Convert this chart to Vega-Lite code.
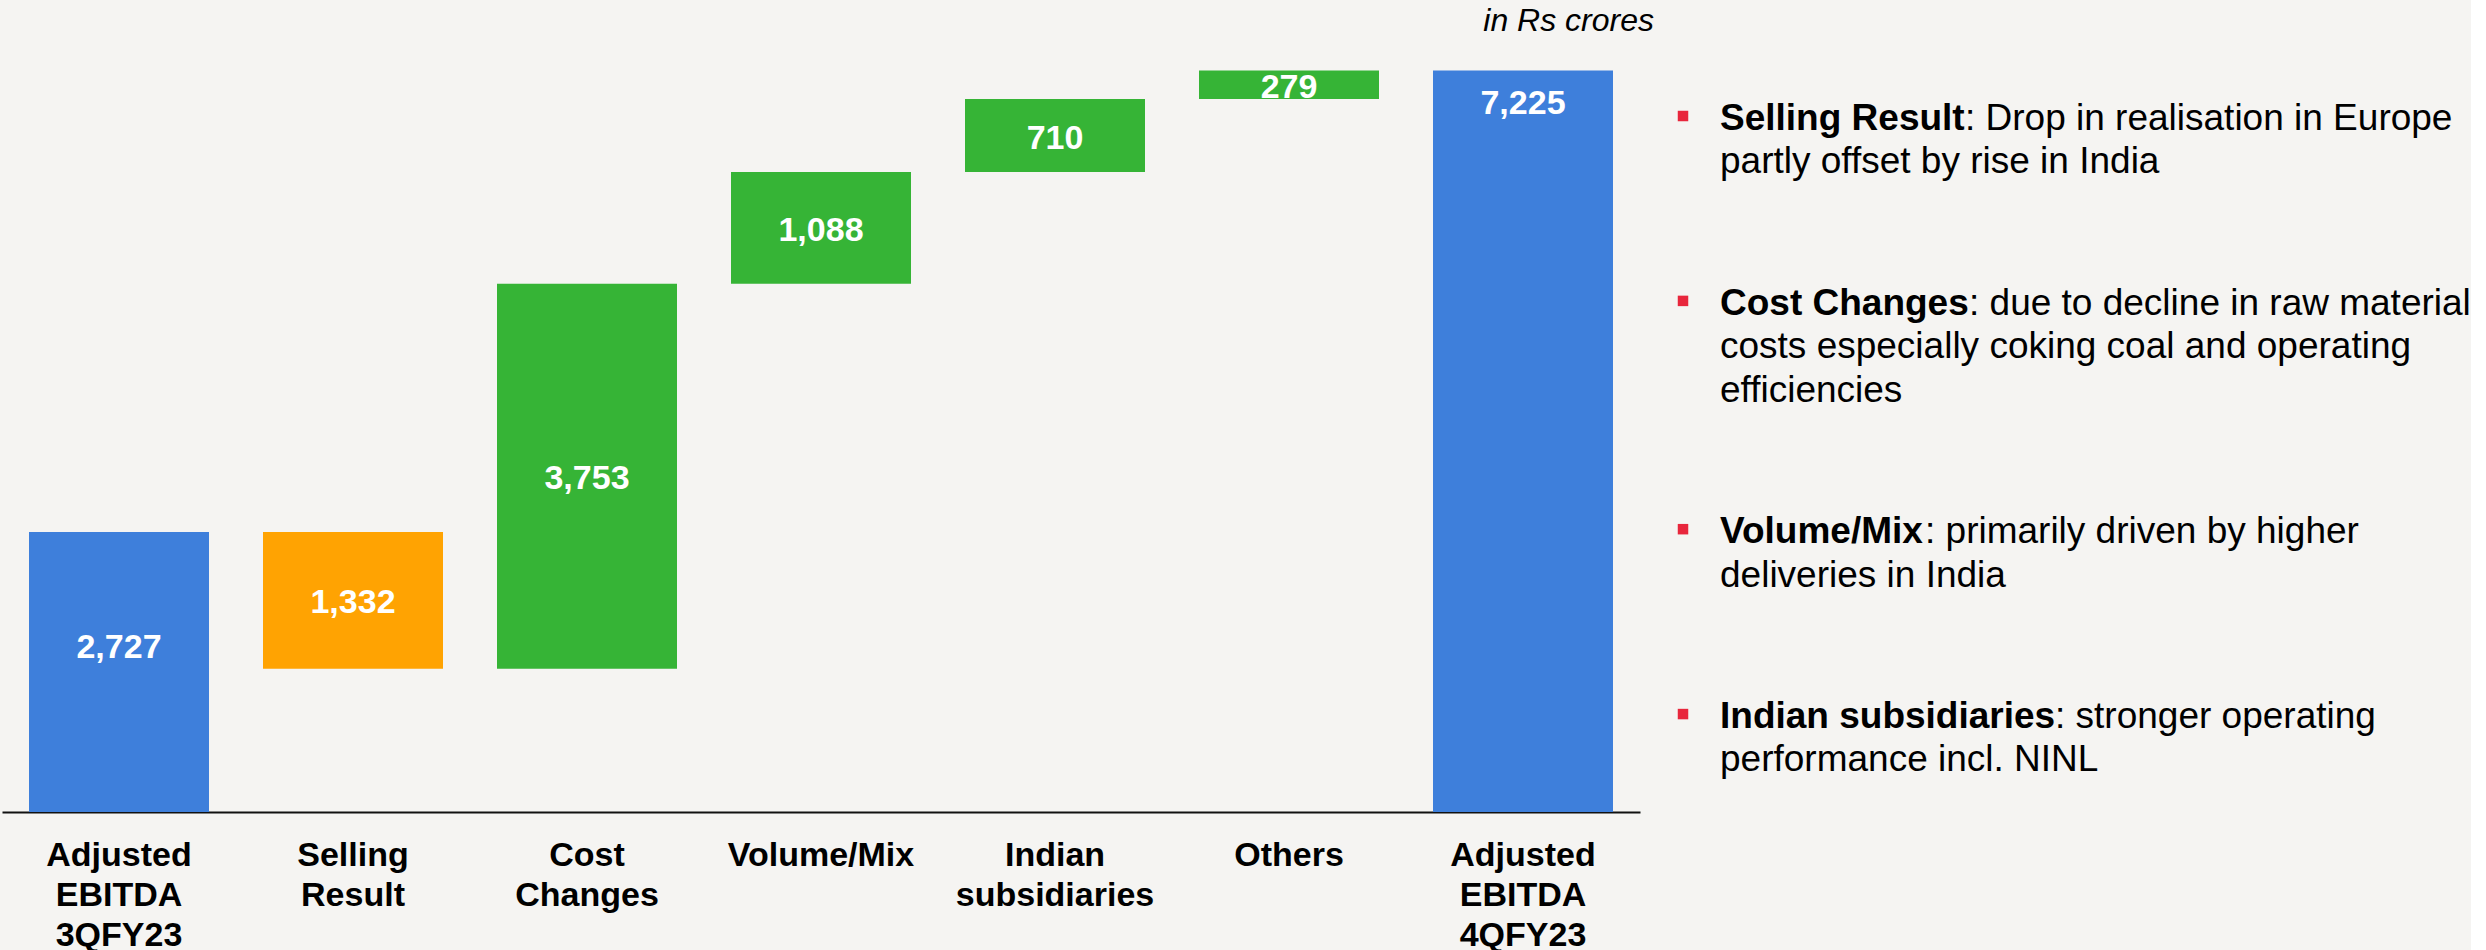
{
  "$schema": "https://vega.github.io/schema/vega-lite/v6.json",
  "background": "#F5F4F2",
  "padding": {"left": 2, "top": 5, "right": 0, "bottom": 0},
  "bounds": "flush",
  "spacing": 43,
  "config": {
    "view": {"stroke": null},
    "font": "Liberation Sans"
  },
  "hconcat": [
    {
      "width": 1638,
      "height": 772,
      "title": {
        "text": "in Rs crores",
        "anchor": "end",
        "frame": "group",
        "fontSize": 32,
        "fontStyle": "italic",
        "fontWeight": "normal",
        "color": "#000000",
        "dx": 14,
        "dy": 2
      },
      "data": {
        "values": [
          {"step": "Adjusted EBITDA 3QFY23", "start": 0, "end": 2727, "amount": 2727, "kind": "total"},
          {"step": "Selling Result", "start": 2727, "end": 1395, "amount": 1332, "kind": "decrease"},
          {"step": "Cost Changes", "start": 1395, "end": 5148, "amount": 3753, "kind": "increase"},
          {"step": "Volume/Mix", "start": 5148, "end": 6236, "amount": 1088, "kind": "increase"},
          {"step": "Indian subsidiaries", "start": 6236, "end": 6946, "amount": 710, "kind": "increase"},
          {"step": "Others", "start": 6946, "end": 7225, "amount": 279, "kind": "increase"},
          {"step": "Adjusted EBITDA 4QFY23", "start": 0, "end": 7225, "amount": 7225, "kind": "total"}
        ]
      },
      "transform": [
        {"calculate": "(datum.start + datum.end) / 2", "as": "mid"}
      ],
      "encoding": {
        "x": {
          "field": "step",
          "type": "nominal",
          "sort": null,
          "scale": {"paddingInner": 0.2308, "paddingOuter": 0.1154},
          "axis": {
            "title": null,
            "labelAngle": 0,
            "labelExpr": "split(datum.label, ' ')",
            "labelFontSize": 34,
            "labelFontWeight": "bold",
            "labelColor": "#000000",
            "labelLineHeight": 40,
            "labelPadding": 26,
            "labelLimit": 0,
            "labelOverlap": false,
            "ticks": false,
            "tickSize": 0,
            "domainColor": "#111111",
            "domainWidth": 2
          }
        }
      },
      "layer": [
        {
          "mark": {"type": "bar"},
          "encoding": {
            "y": {"field": "start", "type": "quantitative", "scale": {"domain": [0, 7522], "nice": false}, "axis": null},
            "y2": {"field": "end"},
            "color": {
              "field": "kind",
              "type": "nominal",
              "scale": {"domain": ["total", "decrease", "increase"], "range": ["#3E7FDB", "#FFA302", "#36B436"]},
              "legend": null
            }
          }
        },
        {
          "transform": [{"filter": "datum.kind != 'total'"}],
          "mark": {"type": "text", "fontSize": 34, "fontWeight": "bold", "color": "#FFFFFF", "baseline": "middle", "dy": 3},
          "encoding": {
            "y": {"field": "mid", "type": "quantitative", "scale": {"domain": [0, 7522], "nice": false}},
            "text": {"field": "amount", "type": "quantitative", "format": ",.0f"}
          }
        },
        {
          "transform": [{"filter": "datum.step == 'Adjusted EBITDA 3QFY23'"}],
          "mark": {"type": "text", "fontSize": 34, "fontWeight": "bold", "color": "#FFFFFF", "baseline": "middle", "dy": -24},
          "encoding": {
            "y": {"field": "mid", "type": "quantitative", "scale": {"domain": [0, 7522], "nice": false}},
            "text": {"field": "amount", "type": "quantitative", "format": ",.0f"}
          }
        },
        {
          "transform": [{"filter": "datum.step == 'Adjusted EBITDA 4QFY23'"}],
          "mark": {"type": "text", "fontSize": 34, "fontWeight": "bold", "color": "#FFFFFF", "baseline": "middle", "dy": 34},
          "encoding": {
            "y": {"field": "end", "type": "quantitative", "scale": {"domain": [0, 7522], "nice": false}},
            "text": {"field": "amount", "type": "quantitative", "format": ",.0f"}
          }
        }
      ]
    },
    {
      "width": 740,
      "height": 772,
      "data": {
        "values": [
          {"note": 1, "head": "Selling Result", "text": ": Drop in realisation in Europe"},
          {"note": 1, "head": "", "text": "partly offset by rise in India"},
          {"note": 2, "head": "Cost Changes", "text": ": due to decline in raw material"},
          {"note": 2, "head": "", "text": "costs especially coking coal and operating"},
          {"note": 2, "head": "", "text": "efficiencies"},
          {"note": 3, "head": "Volume/Mix", "text": ": primarily driven by higher"},
          {"note": 3, "head": "", "text": "deliveries in India"},
          {"note": 4, "head": "Indian subsidiaries", "text": ": stronger operating"},
          {"note": 4, "head": "", "text": "performance incl. NINL"}
        ]
      },
      "transform": [
        {"window": [{"op": "row_number", "as": "row"}]},
        {"window": [{"op": "row_number", "as": "lineInNote"}], "groupby": ["note"]},
        {"calculate": "datum.row - 1 + (datum.note - 1) * 2.26", "as": "pos"}
      ],
      "encoding": {
        "y": {
          "field": "pos",
          "type": "quantitative",
          "scale": {"domain": [-2.074, 15.714], "reverse": true, "nice": false, "zero": false},
          "axis": null
        }
      },
      "layer": [
        {
          "transform": [{"filter": "datum.lineInNote == 1"}],
          "mark": {"type": "point", "shape": "square", "filled": true, "size": 110, "color": "#E8263C", "opacity": 1, "yOffset": -14},
          "encoding": {
            "x": {"datum": 0, "type": "quantitative", "scale": {"domain": [0, 20], "nice": false, "zero": false}, "axis": null}
          }
        },
        {
          "transform": [{"filter": "datum.lineInNote == 1"}],
          "mark": {"type": "text", "fontSize": 37, "fontWeight": "bold", "color": "#000000", "align": "left", "baseline": "alphabetic"},
          "encoding": {
            "x": {"datum": 1, "type": "quantitative", "scale": {"domain": [0, 20], "nice": false, "zero": false}, "axis": null},
            "text": {"field": "head"}
          }
        },
        {
          "mark": {
            "type": "text",
            "fontSize": 37,
            "color": "#000000",
            "align": "left",
            "baseline": "alphabetic",
            "dx": {"expr": "datum.lineInNote == 1 ? (datum.note == 1 ? 245 : datum.note == 2 ? 249 : datum.note == 3 ? 205 : 335) : 0"}
          },
          "encoding": {
            "x": {"datum": 1, "type": "quantitative", "scale": {"domain": [0, 20], "nice": false, "zero": false}, "axis": null},
            "text": {"field": "text"}
          }
        }
      ]
    }
  ]
}
